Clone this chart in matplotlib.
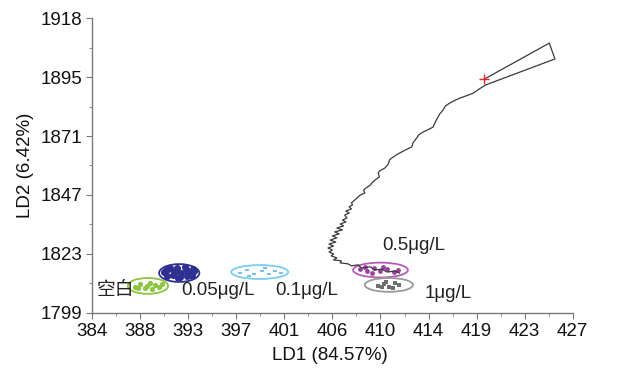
import matplotlib

matplotlib.use("Agg")
import matplotlib.pyplot as plt
import numpy as np
from matplotlib.patches import Ellipse

plt.rcParams["font.family"] = ["Liberation Sans", "Noto Sans CJK SC", "DejaVu Sans"]

# axis ranges and tick labels as printed
x_ticks = np.linspace(384, 427, 11)
x_labels = ["384", "388", "393", "397", "401", "406", "410", "414", "419", "423", "427"]
y_ticks = np.linspace(1799, 1918, 6)
y_labels = ["1799", "1823", "1847", "1871", "1895", "1918"]

# trajectory (LD1, LD2)
traj_x = [419.1, 424.9, 425.4, 419.2,
          418.5, 418.1, 417.4, 416.9, 416.5, 416.0, 415.6, 415.4, 415.1, 414.9,
          414.7, 414.5, 414.0, 413.6, 413.2, 413.1, 412.9, 412.7, 412.6, 412.0,
          411.5, 411.2, 410.8, 410.6, 410.5, 410.2, 409.7, 409.6, 409.7, 409.3,
          409.0, 408.9, 408.5, 408.3, 408.4, 408.0, 407.7, 407.5, 407.2, 407.3,
          407.0, 407.2, 406.7, 407.0, 406.6, 406.8, 406.4, 406.7, 406.2, 406.5,
          405.9, 406.4, 405.7, 406.1, 405.5, 405.9, 405.3, 405.8, 405.2, 405.6,
          405.1, 405.5, 405.2, 405.6, 405.4, 405.9, 405.6, 406.3, 406.2, 406.9,
          407.2, 407.8, 408.1, 408.9, 409.3, 409.9, 410.4, 411.1, 411.5]
traj_y = [1893.4, 1907.9, 1901.5, 1891.0,
          1889.0, 1887.7, 1886.5, 1885.7, 1884.9, 1883.7, 1882.5, 1880.9, 1879.3, 1877.7,
          1876.0, 1874.0, 1872.8, 1872.0, 1870.8, 1870.0, 1868.8, 1867.6, 1866.0, 1864.7,
          1863.5, 1862.7, 1861.5, 1860.7, 1859.1, 1857.5, 1856.3, 1855.5, 1853.9, 1852.6,
          1851.4, 1850.6, 1849.4, 1848.6, 1847.4, 1846.6, 1845.4, 1844.6, 1843.4, 1842.6,
          1841.8, 1841.0, 1840.1, 1839.3, 1838.5, 1837.3, 1836.5, 1835.7, 1834.9, 1834.1,
          1833.3, 1832.5, 1831.7, 1830.9, 1830.1, 1829.3, 1828.4, 1827.6, 1826.8, 1826.0,
          1825.2, 1824.4, 1823.6, 1822.8, 1822.0, 1821.2, 1820.4, 1820.0, 1819.2, 1818.8,
          1818.0, 1818.4, 1817.1, 1817.6, 1816.3, 1816.7, 1815.5, 1815.9, 1815.1]
start_point = (419.1, 1893.4)

# groups: ellipse centre / size and sample points
groups = ["空白", "0.05μg/L", "0.1μg/L", "0.5μg/L", "1μg/L"]
colors = ["#8cc63f", "#2e3192", "#7accf0", "#b35bb5", "#9a9a9a"]
dot_colors = ["#8cc63f", "#2e3192", "#5bb8e6", "#9b3f9d", "#6e6e6e"]
centers = [(389.0, 1809.9), (391.8, 1815.1), (399.0, 1815.5), (409.8, 1816.3), (410.55, 1810.3)]
widths = [3.6, 3.6, 5.1, 4.9, 4.3]
heights = [6.4, 7.2, 5.6, 6.0, 5.6]

green_x = [387.8, 388.3, 388.7, 389.2, 389.6, 390.0, 388.9, 389.4, 388.1, 390.3]
green_y = [1809.5, 1810.8, 1809.0, 1811.2, 1810.3, 1809.4, 1810.0, 1808.7, 1808.9, 1810.6]
blue_x = [390.4, 390.8, 391.2, 391.6, 392.0, 392.4, 392.8, 393.1, 390.7, 391.3,
          391.9, 392.5, 393.0, 391.0, 391.7, 392.3, 392.9, 390.6, 391.5, 392.6]
blue_y = [1815.5, 1816.8, 1814.2, 1817.1, 1815.0, 1816.6, 1814.5, 1815.8, 1814.0, 1815.9,
          1813.4, 1813.8, 1816.9, 1817.0, 1813.2, 1817.4, 1813.9, 1816.3, 1816.0, 1815.2]
cyan_x = [397.2, 397.9, 398.5, 399.2, 399.8, 400.4, 398.0, 399.5, 400.9]
cyan_y = [1815.0, 1816.2, 1814.8, 1816.0, 1814.6, 1815.8, 1813.9, 1817.0, 1815.1]
purple_x = [408.0, 408.6, 409.2, 409.8, 410.4, 411.0, 409.0, 410.0, 408.4, 411.4]
purple_y = [1816.6, 1815.9, 1817.3, 1816.0, 1816.9, 1815.7, 1815.2, 1817.6, 1817.4, 1816.4]
gray_x = [409.6, 410.1, 410.6, 411.1, 411.5, 410.3, 410.9, 409.9]
gray_y = [1810.0, 1810.8, 1809.6, 1810.9, 1810.2, 1811.3, 1809.2, 1809.3]
points = [(green_x, green_y), (blue_x, blue_y), (cyan_x, cyan_y),
          (purple_x, purple_y), (gray_x, gray_y)]
dot_sizes = [14, 26, 6, 12, 12]
markers = ["o", "o", "_", "o", "s"]

label_pos = [(384.45, 1807.9), (391.96, 1807.9), (400.36, 1807.9), (410.0, 1826.4), (413.77, 1807.0)]

fig = plt.figure(figsize=(6.26, 3.69), dpi=100)
ax = fig.add_axes([0.147, 0.152, 0.768, 0.799])

ax.plot(traj_x, traj_y, color="#3a3a3a", linewidth=0.9, zorder=3)
ax.plot(*start_point, marker="+", color="#e8202a", markersize=7, mew=1.0, zorder=4)

for i, name in enumerate(groups):
    px, py = points[i]
    ax.scatter(px, py, s=dot_sizes[i], color=dot_colors[i], marker=markers[i],
               linewidths=1.2 if markers[i] == "_" else 0, zorder=2)
    ax.add_patch(Ellipse(centers[i], widths[i], heights[i], fill=False,
                         edgecolor=colors[i], linewidth=1.3, zorder=2))
    ax.text(label_pos[i][0], label_pos[i][1], name, fontsize=13.5, color="#222222",
            ha="left", va="center", zorder=5)

ax.set_xlim(384, 427)
ax.set_ylim(1799, 1918)
ax.set_xticks(x_ticks)
ax.set_xticklabels(x_labels)
ax.set_yticks(y_ticks)
ax.set_yticklabels(y_labels)
ax.set_xticks((x_ticks[:-1] + x_ticks[1:]) / 2, minor=True)
ax.set_yticks((y_ticks[:-1] + y_ticks[1:]) / 2, minor=True)

for side in ["top", "right"]:
    ax.spines[side].set_visible(False)
for side in ["left", "bottom"]:
    ax.spines[side].set_color("#7a7a7a")
    ax.spines[side].set_linewidth(1.0)
ax.tick_params(which="both", colors="#7a7a7a", labelcolor="#111111",
               labelsize=13.5, direction="out")
ax.tick_params(which="major", length=4, pad=3)
ax.tick_params(which="minor", length=2.5)

ax.set_xlabel("LD1 (84.57%)", fontsize=13.5, color="#111111")
ax.set_ylabel("LD2 (6.42%)", fontsize=13.5, color="#111111")
ax.xaxis.set_label_coords(0.495, -0.115)
ax.yaxis.set_label_coords(-0.12, 0.5)

fig.savefig("out.png", dpi=100)
